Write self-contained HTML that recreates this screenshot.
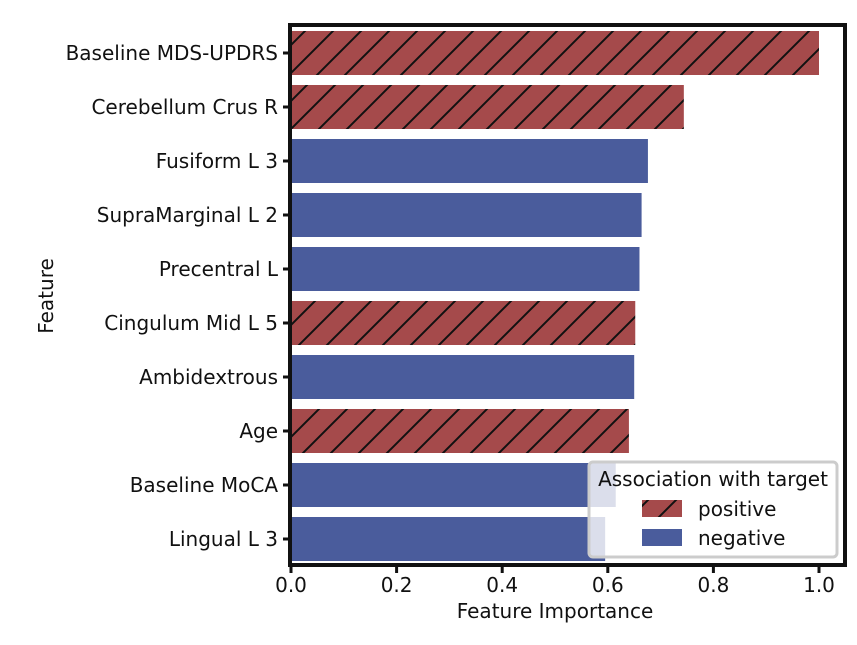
<!DOCTYPE html>
<html><head><meta charset="utf-8"><style>
body{margin:0;background:#fff;}
svg text{font-family:"DejaVu Sans","Liberation Sans",sans-serif;fill:#111;}
</style></head><body>
<svg id="chart" width="857" height="640">
<defs>
<pattern id="hatch" patternUnits="userSpaceOnUse" width="28" height="28">
<rect width="28" height="28" fill="#a54a4b"/>
<path d="M-7,7 L7,-7 M0,28 L28,0 M21,35 L35,21" stroke="#111" stroke-width="2"/>
</pattern>
</defs>
<g id="bars"></g>
<g id="axes"></g>
</svg>
<script>
const features=["Baseline MDS-UPDRS","Cerebellum Crus R","Fusiform L 3","SupraMarginal L 2","Precentral L","Cingulum Mid L 5","Ambidextrous","Age","Baseline MoCA","Lingual L 3"];
const importance=[1.0,0.744,0.676,0.664,0.660,0.652,0.650,0.640,0.615,0.595];
const association=["positive","positive","negative","negative","negative","positive","negative","positive","negative","negative"];
const xTicks=[0.0,0.2,0.4,0.6,0.8,1.0];
const xTickLabels=["0.0","0.2","0.4","0.6","0.8","1.0"];

const NS="http://www.w3.org/2000/svg";
const L=291,R=845,T=26,B=565;
const FS=20;
const x=v=>L+v*528;
const yc=i=>53+i*54;
function mk(tag,attrs,parent){const e=document.createElementNS(NS,tag);for(const k in attrs)e.setAttribute(k,attrs[k]);parent.appendChild(e);return e;}
const bars=document.getElementById('bars'),axes=document.getElementById('axes');
features.forEach((f,i)=>{
  const r=mk('rect',{x:x(0),y:yc(i)-22,width:x(importance[i])-x(0),height:44,fill:association[i]==='positive'?'url(#hatch)':'#4a5c9c'},bars);
  
  
  mk('line',{x1:L-8,x2:L,y1:yc(i),y2:yc(i),stroke:'#111','stroke-width':3},axes);
  const t=mk('text',{x:L-13,y:yc(i)+7,'text-anchor':'end','font-size':FS},axes);t.textContent=f;
  
  
});
xTicks.forEach((v,i)=>{
  mk('line',{x1:x(v),x2:x(v),y1:B,y2:B+8,stroke:'#111','stroke-width':3},axes);
  const t=mk('text',{x:x(v),y:B+27,'text-anchor':'middle','font-size':FS},axes);t.textContent=xTickLabels[i];
  
  
});
const fr=mk('rect',{x:L-1,y:T-1,width:R-L+1,height:B-T+1,fill:'none',stroke:'#111','stroke-width':4},axes);


const xt=mk('text',{x:x(0.5),y:618,'text-anchor':'middle','font-size':FS},axes);xt.textContent='Feature Importance';


const yt=mk('text',{x:53,y:296,'text-anchor':'middle','font-size':FS,transform:'rotate(-90 53 296)'},axes);yt.textContent='Feature';


const lg=mk('g',{},axes);


mk('rect',{x:589,y:462,width:248,height:95,rx:4,fill:'rgba(255,255,255,0.8)',stroke:'#ccc','stroke-width':3},lg);
const lt=mk('text',{x:713,y:486,'text-anchor':'middle','font-size':FS},lg);lt.textContent='Association with target';
const e1=mk('rect',{x:642,y:500,width:40,height:17,fill:'url(#hatch)'},lg);


const t1=mk('text',{x:698,y:516,'font-size':FS},lg);t1.textContent='positive';
const e2=mk('rect',{x:642,y:529,width:40,height:17,fill:'#4a5c9c'},lg);


const t2=mk('text',{x:698,y:545,'font-size':FS},lg);t2.textContent='negative';
</script>
</body></html>
